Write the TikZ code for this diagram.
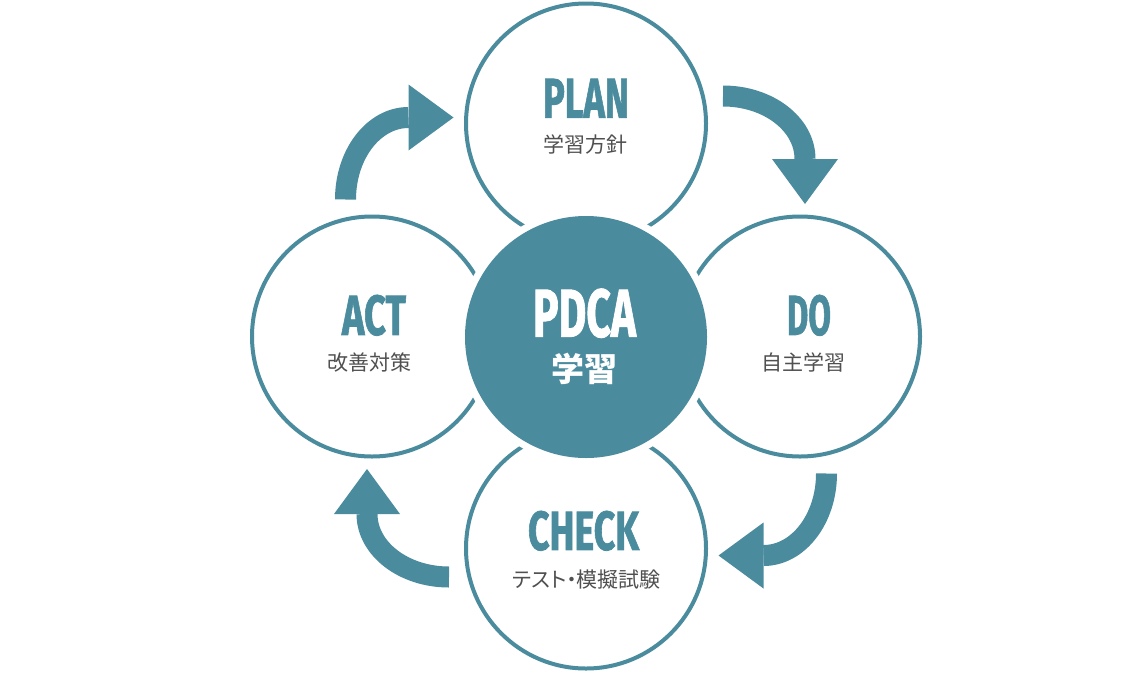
\documentclass[tikz,border=0pt]{standalone}
\usepackage{fontspec}
\usepackage{graphicx}
\newfontfamily\headfont{Fira Sans}[FakeBold=1.5]
\newfontfamily\cjkfont{Noto Sans CJK JP}
\newfontfamily\cjkpfont{Noto Sans CJK JP}[RawFeature=+palt]
\definecolor{teal}{RGB}{74,139,158}
\definecolor{subgray}{RGB}{80,80,80}
\tikzset{
  outercircle/.style={circle, draw=teal, line width=4pt, fill=white, minimum size=240pt, inner sep=0pt},
  hubhalo/.style={circle, fill=white, minimum size=256pt, inner sep=0pt},
  hubcircle/.style={circle, fill=teal, minimum size=242pt, inner sep=0pt},
  headtext/.style={inner sep=0pt, anchor=south, text=teal},
  subtext/.style={inner sep=0pt, anchor=center, text=subgray, font=\cjkfont\fontsize{21pt}{21pt}\selectfont},
  shaft/.style={draw=teal, line width=21pt},
  arrowhead/.style={fill=teal}
}
\newcommand{\headlabel}[3]{\resizebox{#1pt}{#2pt}{\headfont\bfseries #3}}
\begin{document}
\begin{tikzpicture}[x=1pt,y=-1pt]
\useasboundingbox[fill=white] (0,0) rectangle (1134,672);
% outer circles
\node[outercircle] (plan) at (586,123.5) {};
\node[outercircle] (do) at (800,336.5) {};
\node[outercircle] (check) at (586,548.5) {};
\node[outercircle] (act) at (372,336.5) {};
% hub
\node[hubhalo] (halo) at (586,337) {};
\node[hubcircle] (hub) at (586,337) {};
% curved arrows
% ACT -> PLAN (top-left)
\draw[shaft] (345.5,199.5) arc[start angle=180, end angle=270, x radius=63, y radius=82];
\fill[arrowhead] (408.5,84.5) -- (453.5,117.5) -- (408.5,150.5) -- cycle;
% PLAN -> DO (top-right)
\draw[shaft] (723,96) arc[start angle=270, end angle=360, x radius=82, y radius=63];
\fill[arrowhead] (772,159) -- (838,159) -- (805,204) -- cycle;
% DO -> CHECK (bottom-right)
\draw[shaft] (826.5,473.5) arc[start angle=0, end angle=90, x radius=63, y radius=82];
\fill[arrowhead] (763.5,522.5) -- (763.5,588.5) -- (718.5,555.5) -- cycle;
% CHECK -> ACT (bottom-left)
\draw[shaft] (449,577) arc[start angle=90, end angle=180, x radius=82, y radius=63];
\fill[arrowhead] (400,514) -- (334,514) -- (367,469) -- cycle;
% labels
\node[headtext] (plant) at (586,118) {\headlabel{86}{39}{PLAN}};
\node[subtext] (plans) at (585.5,145) {学習方針};
\node[headtext] (dot) at (809,336) {\headlabel{44}{40}{DO}};
\node[subtext] (dos) at (803.5,362.5) {自主学習};
\node[headtext] (actt) at (374,336) {\headlabel{64}{40}{ACT}};
\node[subtext] (acts) at (369,362.5) {改善対策};
\node[headtext] (checkt) at (583.5,551) {\headlabel{111}{39}{CHECK}};
\node[subtext, font=\cjkpfont\fontsize{21pt}{21pt}\selectfont] (checks) at (586.5,579.5) {テスト・模擬試験};
\node[headtext, text=white] (hubt) at (584.5,338) {\headlabel{103}{48}{PDCA}};
\node[inner sep=0pt, text=white, font=\cjkfont\bfseries\fontsize{33pt}{33pt}\selectfont] (hubs) at (584,368.5) {学習};
\end{tikzpicture}
\end{document}
